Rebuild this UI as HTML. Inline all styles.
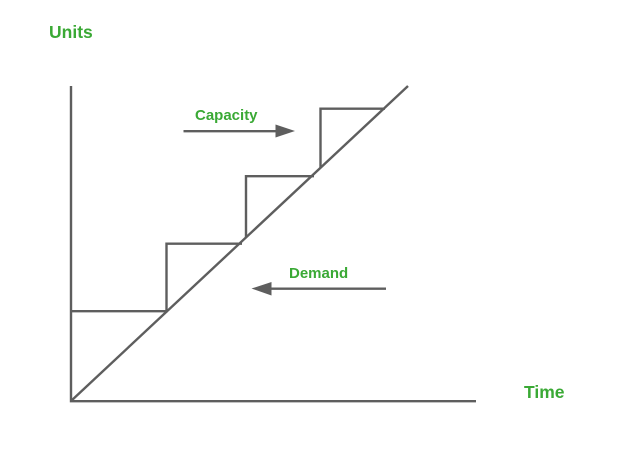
<!DOCTYPE html>
<html>
<head>
<meta charset="utf-8">
<style>
html,body{margin:0;padding:0;background:#fff;width:624px;height:450px;overflow:hidden}
svg{display:block}
text{font-family:"Liberation Sans",Arial,sans-serif;font-weight:bold;fill:#3aa935}
</style>
</head>
<body>
<svg width="624" height="450" viewBox="0 0 624 450" xmlns="http://www.w3.org/2000/svg">
<rect width="624" height="450" fill="#fff"/>
<g fill="none" stroke="#5e5e5e" stroke-width="2.4">
<path d="M71 86V401.200H476"/>
<path d="M71 401L408 86"/>
<path d="M71 311.200H166.500V243.700H242"/>
<path d="M246 237.500V176.200H314"/>
<path d="M320.500 168V108.700H385"/>
<path d="M183.500 131.200H277"/>
<path d="M386 288.700H270"/>
</g>
<path d="M275.500 124.500L295 131L275.500 137.500Z" fill="#5e5e5e"/>
<path d="M271.500 282L251.500 288.500L271.500 295.500Z" fill="#5e5e5e"/>
<text x="49" y="38" font-size="17.5">Units</text>
<text x="195" y="120" font-size="15">Capacity</text>
<text x="289" y="278" font-size="15">Demand</text>
<text x="524" y="398" font-size="17.5">Time</text>
</svg>
</body>
</html>
